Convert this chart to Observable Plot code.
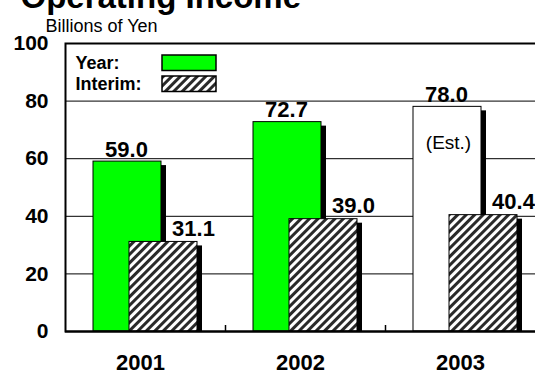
<!DOCTYPE html>
<html>
<head>
<meta charset="utf-8">
<script src="https://cdn.jsdelivr.net/npm/d3@7"></script>
<script src="https://cdn.jsdelivr.net/npm/@observablehq/plot@0.6"></script>
<style>
  html, body { margin: 0; padding: 0; background: white; overflow: hidden; }
  #chart svg { display: block; }
</style>
</head>
<body>
<div id="chart"></div>
<script>
// Operating income, billions of yen
const years = ["2001", "2002", "2003"];
const yearIncome = [59.0, 72.7, 78.0];
const interimIncome = [31.1, 39.0, 40.4];
const yearStatus = ["actual", "actual", "estimate"];
const yTicks = [0, 20, 40, 60, 80, 100];
const gridValues = [20, 40, 60, 80];

const rows = years.map((year, i) => ({
  year,
  full: yearIncome[i],
  interim: interimIncome[i],
  status: yearStatus[i]
}));

const W = 535, H = 374;
const marginLeft = 65, marginRight = -10;
const band = (W - marginRight - marginLeft) / years.length;
const fmt = d3.format(".1f");
const GREEN = "#00ff00";
const FONT = "'Liberation Sans', Arial, Helvetica, sans-serif";
const bold = {fontWeight: "bold"};

const yearInsets = {insetLeft: 28, insetRight: 64};
const interimInsets = {insetLeft: 64, insetRight: 28};

const chart = Plot.plot({
  width: W,
  height: H,
  marginLeft,
  marginRight,
  marginTop: 43,
  marginBottom: 43,
  style: {fontFamily: FONT, background: "white", color: "black"},
  x: {type: "band", domain: years, padding: 0},
  y: {domain: [0, 100]},
  marks: [
    Plot.ruleY(gridValues, {stroke: "black", strokeWidth: 1}),
    // full-year bars with drop shadow
    Plot.barY(rows, {x: "year", y: "full", fill: "black", ...yearInsets, dx: 5, dy: 4, clip: true}),
    Plot.barY(rows, {x: "year", y: "full", ...yearInsets,
      fill: d => d.status === "estimate" ? "white" : GREEN, stroke: "black", strokeWidth: 1}),
    // interim bars with drop shadow
    Plot.barY(rows, {x: "year", y: "interim", fill: "black", ...interimInsets, dx: 5, dy: 4, clip: true}),
    Plot.barY(rows, {x: "year", y: "interim", ...interimInsets,
      fill: "url(#hatch)", stroke: "black", strokeWidth: 1}),
    Plot.frame({stroke: "black", strokeWidth: 2}),
    Plot.ruleY([0], {stroke: "black", strokeWidth: 2}),
    // small ticks between the year groups
    Plot.ruleX(years.slice(1), {x: d => d, y1: 0, y2: 0, insetTop: -6, dx: -band / 2, stroke: "black", strokeWidth: 1.5}),
    // value labels
    Plot.text(rows, {x: "year", y: "full", text: d => fmt(d.full), dx: -19, dy: -5,
      lineAnchor: "bottom", fontSize: 22, ...bold, fill: "black"}),
    Plot.text(rows, {x: "year", y: "interim", text: d => fmt(d.interim), dx: 48, dy: -6,
      lineAnchor: "bottom", fontSize: 22, ...bold, fill: "black"}),
    Plot.text(rows.filter(d => d.status === "estimate"), {x: "year", y: "full", text: () => "(Est.)",
      dx: -17, dy: 29, lineAnchor: "top", fontSize: 19, fill: "black"}),
    Plot.axisY({ticks: yTicks, tickSize: 0, tickPadding: 17, fontSize: 21, ...bold, label: null}),
    Plot.axisX({tickSize: 0, tickPadding: 23, fontSize: 22, ...bold, label: null, dx: -5})
  ]
});

const svg = d3.select(chart);

// diagonal hatch used by the interim bars
const pattern = svg.insert("defs", ":first-child")
  .append("pattern")
  .attr("id", "hatch")
  .attr("patternUnits", "userSpaceOnUse")
  .attr("width", 6)
  .attr("height", 6)
  .attr("patternTransform", "rotate(45)");
pattern.append("rect").attr("width", 6).attr("height", 6).attr("fill", "white");
pattern.append("rect").attr("width", 3).attr("height", 6).attr("fill", "#2a2a2a");

// title and unit
const header = svg.append("g")
  .attr("text-anchor", "start")
  .attr("font-family", FONT)
  .attr("fill", "black");
header.append("text")
  .attr("x", 20.5).attr("y", 8)
  .attr("font-size", 33).attr("font-weight", "bold")
  .text("Operating Income");
header.append("text")
  .attr("x", 45.5).attr("y", 31.5)
  .attr("font-size", 18)
  .text("Billions of Yen");

// legend
const legend = svg.append("g")
  .attr("text-anchor", "start")
  .attr("font-family", FONT)
  .attr("font-size", 18)
  .attr("font-weight", "bold")
  .attr("fill", "black");
legend.append("text").attr("x", 75.5).attr("y", 68.5).text("Year:");
legend.append("text").attr("x", 75.5).attr("y", 90).text("Interim:");
legend.append("rect").attr("x", 162).attr("y", 55).attr("width", 54).attr("height", 15.5)
  .attr("fill", GREEN).attr("stroke", "black").attr("stroke-width", 1.5);
legend.append("rect").attr("x", 162).attr("y", 76).attr("width", 54).attr("height", 15.5)
  .attr("fill", "url(#hatch)").attr("stroke", "black").attr("stroke-width", 1.5);

document.getElementById("chart").append(chart);
</script>
</body>
</html>
